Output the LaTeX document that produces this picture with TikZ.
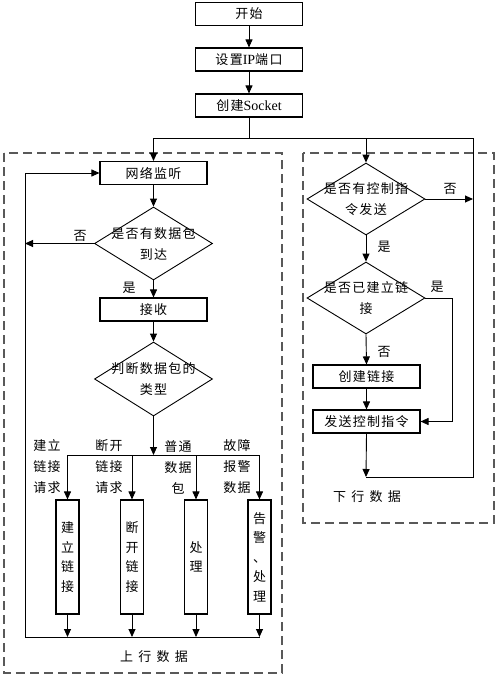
\documentclass[tikz,border=0pt]{standalone}
\usepackage{fontspec}
\setmainfont{Liberation Serif}
\newfontfamily\cjk[LetterSpace=10]{Noto Sans CJK SC}
\newfontfamily\cjkwide[LetterSpace=40]{Noto Sans CJK SC}
\newfontfamily\latin{Liberation Serif}
\usetikzlibrary{shapes.geometric,arrows.meta}
\begin{document}
\begin{tikzpicture}[x=1pt,y=-1pt,
  txt/.style={font=\fontsize{13}{21}\selectfont\cjk, align=center, inner sep=0pt},
  box/.style={txt, draw, line width=1.1pt, minimum width=107pt, minimum height=23pt},
  tall/.style={txt, draw, line width=1.1pt, minimum width=23pt, minimum height=114pt, font=\fontsize{13}{19.5}\selectfont\cjk},
  dia/.style={diamond, draw, line width=0.9pt, inner sep=0pt, minimum width=118pt, minimum height=73pt},
  lbl/.style={txt},
  ln/.style={line width=0.9pt},
  arr/.style={ln, -{Triangle[length=8pt,width=7pt]}},
  frame/.style={line width=1.1pt, dash pattern=on 9pt off 5pt, gray!70!black},
]
\useasboundingbox (0,0) rectangle (500,688);

% dashed frames
\draw[frame] (4,153) rectangle (282,673);
\draw[frame] (303,153) rectangle (494,523);

% top
\node[box] (start) at (249,14) {开始};
\node[box] (setip) at (249,59.5) {设置{\latin\fontsize{14}{16}\selectfont IP}端口};
\node[box] (sock) at (249,105.5) {创建{\latin\fontsize{14}{16}\selectfont Socket}};
\draw[arr] (start) -- (setip);
\draw[arr] (setip) -- (sock);
\coordinate (split) at (249,138);
\coordinate (sl) at (153.5,138);
\coordinate (sm) at (366,138);
\coordinate (sr) at (473,138);
\draw[ln] (sock.south) -- (split);
\draw[ln] (sl) -- (sr);

% left column
\node[box] (lis) at (153.5,173) {网络监听};
\node[dia] (d1) at (153.5,243.5) {};
\node[txt] at (d1) {是否有数据包\\到达};
\node[box] (rcv) at (153.5,309.5) {接收};
\node[dia, minimum height=74pt] (d2) at (153.5,379) {};
\node[txt] at (d2) {判断数据包的\\类型};
\draw[arr] (sl) -- (lis.north);
\draw[arr] (lis) -- (d1.north);
\draw[arr] (d1.south) -- (rcv.north);
\draw[arr] (rcv) -- (d2.north);
\node[lbl] at (129,288) {是};
\node[lbl] at (80,236) {否};
\coordinate (lno) at (25,243.5);
\draw[arr] (d1.west) -- (lno);

\coordinate (br) at (153.5,455);
\draw[arr] (d2.south) -- (br);
\node[tall] (b1) at (67.5,557) {建\\立\\链\\接};
\node[tall] (b2) at (132,557) {断\\开\\链\\接};
\node[tall] (b3) at (196,557) {处\\理};
\node[tall] (b4) at (259.5,557) {告\\警\\、\\处\\理};
\draw[ln] (b1.north |- br) -- (b4.north |- br);
\foreach \b in {b1,b2,b3,b4}{
  \draw[arr] (\b.north |- br) -- (\b.north);
}
\node[lbl] at (47,467) {建立\\链接\\请求};
\node[lbl] at (109,467) {断开\\链接\\请求};
\node[lbl] at (178,467) {普通\\数据\\包};
\node[lbl] at (237,467) {故障\\报警\\数据};

\coordinate (bl) at (25,637);
\coordinate (br2) at (259.5,637);
\coordinate (lt) at (25,173);
\draw[ln] (bl) -- (br2);
\foreach \b in {b1,b2,b3,b4}{
  \draw[arr] (\b.south) -- (\b.south |- bl);
}
\draw[arr] (bl) -- (lt) -- (lis.west);
\node[txt, font=\fontsize{13}{15}\selectfont\cjkwide] (up) at (154,657) {上行数据};

% right column
\node[dia, minimum height=72pt] (d3) at (366,199) {};
\node[txt] at (d3) {是否有控制指\\令发送};
\node[dia, minimum height=72pt] (d4) at (366,298) {};
\node[txt] at (d4) {是否已建立链\\接};
\node[box] (mk) at (366.5,376.5) {创建链接};
\node[box] (snd) at (366.5,421.5) {发送控制指令};
\draw[arr] (sm) -- (d3.north);
\draw[arr] (d3.south) -- (d4.north);
\draw[arr] (d4.south) -- (mk.north);
\draw[arr] (mk) -- (snd);
\coordinate (rno) at (473,199);
\draw[arr] (d3.east) -- (rno);
\node[lbl] at (450,189) {否};
\node[lbl] at (384,247) {是};
\node[lbl] at (437,287) {是};
\node[lbl] at (384,352) {否};
\coordinate (ry) at (452,298);
\coordinate (ry2) at (452,421.5);
\draw[arr] (d4.east) -- (ry) -- (ry2) -- (snd.east);
\coordinate (rb) at (366,477);
\coordinate (rbr) at (473,477);
\draw[ln] (sr) -- (rbr) -- (rb);
\draw[arr] (snd.south) -- (rb);
\node[txt, font=\fontsize{13}{15}\selectfont\cjkwide] (down) at (367,497) {下行数据};
\end{tikzpicture}
\end{document}
